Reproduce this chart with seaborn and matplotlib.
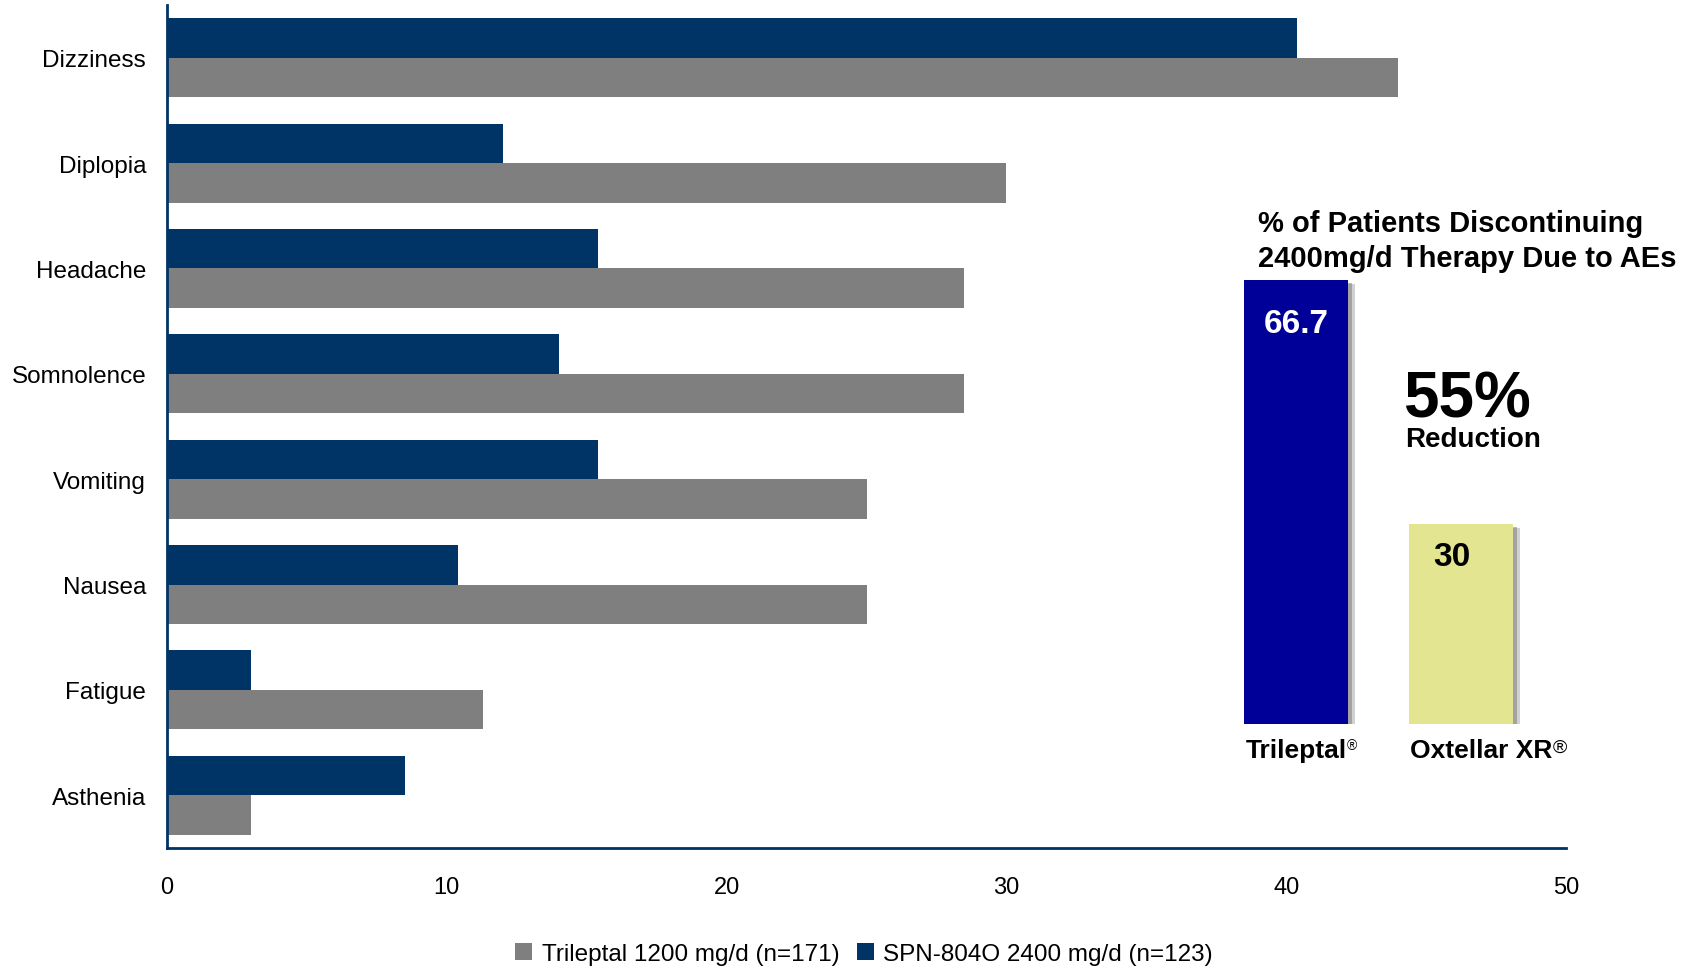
import matplotlib
matplotlib.use("Agg")
import matplotlib.pyplot as plt
import matplotlib.patheffects as pe
from matplotlib.patches import Patch
import seaborn as sns
import pandas as pd

# ---- data ----
categories = ["Dizziness", "Diplopia", "Headache", "Somnolence",
              "Vomiting", "Nausea", "Fatigue", "Asthenia"]
spn_values = [40.4, 12.0, 15.4, 14.0, 15.4, 10.4, 3.0, 8.5]
tri_values = [44.0, 30.0, 28.5, 28.5, 25.0, 25.0, 11.3, 3.0]
series_names = ["SPN-804O 2400 mg/d (n=123)", "Trileptal 1200 mg/d (n=171)"]
legend_order = ["Trileptal 1200 mg/d (n=171)", "SPN-804O 2400 mg/d (n=123)"]
x_ticks = [0, 10, 20, 30, 40, 50]

inset_products = ["Trileptal", "Oxtellar XR"]
inset_values = [66.7, 30]
inset_labels = ["66.7", "30"]

NAVY = "#003366"
GRAY = "#7f7f7f"
colors = {series_names[0]: NAVY, series_names[1]: GRAY}
inset_colors = ["#000099", "#e3e590"]

sns.set_theme(style="white")
plt.rcParams["font.family"] = ["Liberation Sans", "DejaVu Sans"]
plt.rcParams["text.color"] = "black"
plt.rcParams["xtick.color"] = "black"
plt.rcParams["ytick.color"] = "black"

W, H = 1694, 970
fig = plt.figure(figsize=(W / 100, H / 100), dpi=100)


def fx(x):
    return x / W


def fy(y):
    return 1 - y / H


df = pd.DataFrame({
    "category": categories * 2,
    "value": spn_values + tri_values,
    "series": [series_names[0]] * len(categories) + [series_names[1]] * len(categories),
})

ax = fig.add_axes([fx(167), fy(849), fx(1566) - fx(167), fy(6) - fy(849)])
sns.barplot(data=df, y="category", x="value", hue="series", order=categories,
            hue_order=series_names, palette=colors, orient="h", width=0.75,
            saturation=1, legend=False, ax=ax, errorbar=None)
ax.set_xlim(0, 50)
ax.set_ylim(len(categories) - 0.5, -0.5)
ax.set_xticks(x_ticks)
ax.set_xlabel("")
ax.set_ylabel("")
for s in ["top", "right"]:
    ax.spines[s].set_visible(False)
for s in ["left", "bottom"]:
    ax.spines[s].set_color(NAVY)
    ax.spines[s].set_linewidth(2)
ax.tick_params(axis="y", length=0, pad=15, labelsize=17.5, labelcolor="black")
ax.tick_params(axis="x", length=0, pad=20, labelsize=17, labelcolor="black")
for p in ax.patches:
    p.set_edgecolor("none")

# legend
handles = [Patch(facecolor=colors[n], edgecolor="none", label=n) for n in legend_order]
fig.legend(handles=handles, loc="center", bbox_to_anchor=(fx(864), fy(955)),
           ncol=2, frameon=False, fontsize=17.5, handlelength=0.7, handleheight=0.7,
           handletextpad=0.4, columnspacing=0.7, labelcolor="black")

# inset chart
ax2 = fig.add_axes([fx(1213.5), fy(725), fx(330), fy(281) - fy(725)])
ax2.patch.set_alpha(0)
sns.barplot(x=inset_products, y=inset_values, hue=inset_products,
            palette=inset_colors, width=0.63, saturation=1, legend=False,
            ax=ax2, errorbar=None)
ax2.set_ylim(0, max(inset_values))
ax2.set_xlim(-0.5, 1.5)
ax2.axis("off")
for p in ax2.patches:
    p.set_edgecolor("none")
    p.set_path_effects([pe.SimplePatchShadow(offset=(5, -3), shadow_rgbFace="#999999", alpha=0.45),
                        pe.SimplePatchShadow(offset=(3, -2), shadow_rgbFace="#777777", alpha=0.5),
                        pe.Normal()])
label_colors = ["white", "black"]
x_offsets = [0, -6.5]
y_offsets = [-31, -23]
for i, (v, lab) in enumerate(zip(inset_values, inset_labels)):
    ax2.annotate(lab, xy=(i, v), xytext=(x_offsets[i], y_offsets[i]),
                 textcoords="offset points", ha="center", va="center",
                 fontsize=24, fontweight="bold", color=label_colors[i])

# inset product labels with superscript ®
reg_sizes = [10, 14]
for xpos, name, rs in zip([1246, 1410], inset_products, reg_sizes):
    t = fig.text(fx(xpos), fy(758), name, fontsize=19, fontweight="bold",
                 va="baseline", ha="left")
    ax2.annotate("®", xy=(1.0, 0.98), xycoords=t, ha="left", va="top",
                 fontsize=rs, fontweight="normal")

# inset title and annotation
fig.text(fx(1258), fy(232), "% of Patients Discontinuing", fontsize=21,
         fontweight="bold", va="baseline", ha="left")
fig.text(fx(1258), fy(267), "2400mg/d Therapy Due to AEs", fontsize=21,
         fontweight="bold", va="baseline", ha="left")
fig.text(fx(1403), fy(418), "55%", fontsize=46, fontweight="bold",
         va="baseline", ha="left")
fig.text(fx(1405), fy(447), "Reduction", fontsize=20, fontweight="bold",
         va="baseline", ha="left")

fig.savefig("out.png", dpi=100)
